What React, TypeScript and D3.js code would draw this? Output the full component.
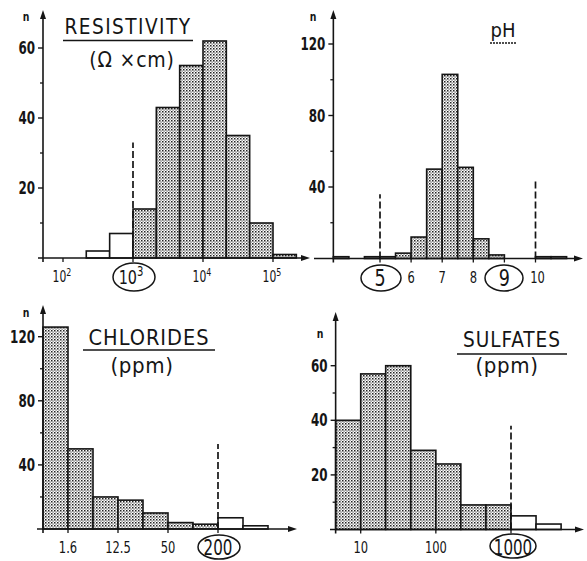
import React from 'react';
import * as d3 from 'd3';

// resistivity (ohm x cm), bins of 1/3 decade
const resEdges = [215, 464, 1000, 2154, 4642, 10000, 21544, 46416, 100000, 215443];
const resCounts = [2, 7, 14, 43, 55, 62, 35, 10, 1];
const resFilled = [0, 0, 1, 1, 1, 1, 1, 1, 1];
const resTicks = [100, 1000, 10000, 100000];
const resTickExp = ['2', '3', '4', '5'];

// pH, bins of 0.5
const phEdges = [3.5, 4, 4.5, 5, 5.5, 6, 6.5, 7, 7.5, 8, 8.5, 9, 9.5, 10, 10.5, 11];
const phCounts = [1, 0, 1, 1, 3, 12, 50, 103, 51, 11, 2, 0, 0, 1, 1];
const phFilled = [0, 0, 0, 0, 1, 1, 1, 1, 1, 1, 1, 0, 0, 0, 0];
const phTicks = [5, 6, 7, 8, 9, 10];

// chlorides (ppm), ordinal bins
const clCounts = [126, 50, 20, 18, 10, 4, 3, 7, 2];
const clFilled = [1, 1, 1, 1, 1, 1, 1, 0, 0];
const clTickIdx = [1, 3, 5, 7];
const clTickLabels = ['1.6', '12.5', '50', '200'];

// sulfates (ppm), bins of 1/3 decade
const soEdges = [4.64, 10, 21.5, 46.4, 100, 215, 464, 1000, 2154, 4642];
const soCounts = [40, 57, 60, 29, 24, 9, 9, 5, 2];
const soFilled = [1, 1, 1, 1, 1, 1, 1, 0, 0];
const soTicks = [10, 100, 1000];

const FONT = "'DejaVu Sans Condensed','DejaVu Sans',sans-serif";
const INK = '#151515';

// narrow text, squeezed horizontally like the old stencil lettering
function Txt({ x, y, size, anchor = 'middle', sx = 0.8, weight = 'normal', ls = 0, children }: any) {
  return (
    <text transform={`translate(${x},${y}) scale(${sx},1)`} textAnchor={anchor} fontSize={size}
      fontFamily={FONT} fontWeight={weight} letterSpacing={ls} fill={INK}>{children}</text>
  );
}

function Arrows({ x0, x1, y0, yTop, xStart }: any) {
  return (
    <g stroke={INK} fill={INK}>
      <line x1={xStart} x2={x1 - 4} y1={y0} y2={y0} strokeWidth={1.6} />
      <path d={`M${x1},${y0} L${x1 - 9},${y0 - 3} L${x1 - 9},${y0 + 3} Z`} stroke="none" />
      <line x1={x0} x2={x0} y1={y0 + 4} y2={yTop + 4} strokeWidth={1.6} />
      <path d={`M${x0},${yTop} L${x0 - 3},${yTop + 9} L${x0 + 3},${yTop + 9} Z`} stroke="none" />
    </g>
  );
}

function YTicks({ x0, y, major, minor }: any) {
  return (
    <g>
      {minor.map((v: number) => (
        <line key={'m' + v} x1={x0 - 3} x2={x0} y1={y(v)} y2={y(v)} stroke={INK} strokeWidth={1.3} />
      ))}
      {major.map((v: number) => (
        <g key={v}>
          <line x1={x0 - 5} x2={x0} y1={y(v)} y2={y(v)} stroke={INK} strokeWidth={1.4} />
          <Txt x={x0 - 8} y={y(v) + 6} size={17} anchor="end" weight="bold" sx={0.78}>{v}</Txt>
        </g>
      ))}
    </g>
  );
}

function Bars({ lefts, rights, counts, filled, y }: any) {
  return (
    <g>
      {counts.map((c: number, i: number) => (
        <rect key={i} x={lefts[i]} y={y(c)} width={rights[i] - lefts[i]} height={y(0) - y(c)}
          fill={filled[i] ? 'url(#stip)' : '#fff'} stroke={INK} strokeWidth={1.6} />
      ))}
    </g>
  );
}

function Dash({ x, y, v }: any) {
  return <line x1={x} x2={x} y1={y(0)} y2={y(v)} stroke={INK} strokeWidth={1.7} strokeDasharray="7,3" />;
}

function Circled({ cx, cy, rx, ry }: any) {
  return <ellipse cx={cx} cy={cy} rx={rx} ry={ry} fill="none" stroke={INK} strokeWidth={1.5} />;
}

export default function App() {
  // panel 1: resistivity
  const x1 = d3.scaleLog().domain([100, 100000]).range([63, 273]);
  const y1 = d3.scaleLinear().domain([0, 60]).range([258, 48]);
  // panel 2: pH
  const x2 = d3.scaleLinear().domain([5, 10]).range([380, 535.5]);
  const y2 = d3.scaleLinear().domain([0, 120]).range([258.5, 44]);
  // panel 3: chlorides
  const x3 = d3.scaleLinear().domain([0, 9]).range([43, 268]);
  const y3 = d3.scaleLinear().domain([0, 120]).range([529, 336.7]);
  // panel 4: sulfates
  const x4 = d3.scaleLog().domain([10, 1000]).range([360.7, 511]);
  const y4 = d3.scaleLinear().domain([0, 60]).range([529.5, 365.7]);

  const tickDown = (x: number, y: number) => (
    <line x1={x} x2={x} y1={y} y2={y + 4} stroke={INK} strokeWidth={1.3} />
  );

  return (
    <svg width={587} height={561} style={{ position: 'absolute', left: 0, top: 0, background: '#fff' }}>
      <defs>
        <pattern id="stip" width={3} height={3} patternUnits="userSpaceOnUse">
          <rect width={3} height={3} fill="#fff" />
          <rect x={0} y={0} width={1.5} height={1.5} fill="#222" />
          <rect x={1.5} y={1.5} width={1.2} height={1.2} fill="#555" />
        </pattern>
      </defs>

      {/* ---------- RESISTIVITY ---------- */}
      <Bars lefts={resEdges.slice(0, -1).map(x1)} rights={resEdges.slice(1).map(x1)} counts={resCounts} filled={resFilled} y={y1} />
      <Dash x={x1(1000)} y={y1} v={33} />
      <Arrows x0={43} x1={310} y0={y1(0)} yTop={10} xStart={38} />
      <YTicks x0={43} y={y1} major={[20, 40, 60]} minor={[10, 30, 50]} />
      {resTicks.map((t, i) => {
        const big = i === 1;
        return (
          <g key={t}>
            {tickDown(x1(t), y1(0))}
            <Txt x={x1(t) - (big ? 2 : 1)} y={big ? 284 : 282} size={big ? 20 : 15} sx={0.8}>
              10<tspan dy={big ? -8 : -6} fontSize={big ? 14 : 11}>{resTickExp[i]}</tspan>
            </Txt>
          </g>
        );
      })}
      <Circled cx={134} cy={277} rx={21} ry={14} />
      <Txt x={26} y={21} size={13} weight="bold">n</Txt>
      <Txt x={128} y={34} size={21} sx={0.98} ls={1.5}>RESISTIVITY</Txt>
      <line x1={63} x2={193} y1={40.5} y2={40.5} stroke={INK} strokeWidth={1.7} />
      <Txt x={132} y={67} size={21} sx={1} ls={0.8}>(Ω ×cm)</Txt>

      {/* ---------- pH ---------- */}
      <Bars lefts={phEdges.slice(0, -1).map(x2)} rights={phEdges.slice(1).map(x2)} counts={phCounts} filled={phFilled} y={y2} />
      <Dash x={x2(5)} y={y2} v={36} />
      <Dash x={x2(10)} y={y2} v={44} />
      <Arrows x0={x2(3.5)} x1={583} y0={y2(0)} yTop={10} xStart={314} />
      <YTicks x0={x2(3.5)} y={y2} major={[40, 80, 120]} minor={[20, 60, 100]} />
      {phTicks.map(t => {
        const big = t === 5 || t === 9;
        return (
          <g key={t}>
            {tickDown(x2(t), y2(0))}
            <Txt x={x2(t) + (t === 10 ? 2 : 0)} y={big ? 286 : 283} size={big ? 23 : 16} sx={big ? 0.85 : 0.8}>{t}</Txt>
          </g>
        );
      })}
      <Circled cx={381} cy={278} rx={20} ry={13} />
      <Circled cx={504} cy={278} rx={19} ry={13} />
      <Txt x={313} y={21} size={13} weight="bold">n</Txt>
      <Txt x={503} y={37} size={20} sx={1}>pH</Txt>
      <line x1={490} x2={517} y1={43} y2={43} stroke={INK} strokeWidth={1.4} strokeDasharray="2,1" />

      {/* ---------- CHLORIDES ---------- */}
      <Bars lefts={clCounts.map((_, i) => x3(i))} rights={clCounts.map((_, i) => x3(i + 1))} counts={clCounts} filled={clFilled} y={y3} />
      <Dash x={x3(7)} y={y3} v={53} />
      <Arrows x0={43} x1={297} y0={y3(0)} yTop={305} xStart={37} />
      <YTicks x0={43} y={y3} major={[40, 80, 120]} minor={[20, 60, 100]} />
      {clTickIdx.map((t, i) => {
        const big = i === 3;
        return (
          <g key={t}>
            {tickDown(x3(t), y3(0))}
            <Txt x={x3(t)} y={big ? 555 : 553} size={big ? 21 : 16} sx={0.8}>{clTickLabels[i]}</Txt>
          </g>
        );
      })}
      <Circled cx={219} cy={547} rx={21} ry={12} />
      <Txt x={26} y={317} size={13} weight="bold">n</Txt>
      <Txt x={149} y={345} size={22} sx={0.98} ls={1}>CHLORIDES</Txt>
      <line x1={83} x2={215} y1={350} y2={350} stroke={INK} strokeWidth={1.7} />
      <Txt x={142} y={373} size={21} sx={1.05} ls={0.6}>(ppm)</Txt>

      {/* ---------- SULFATES ---------- */}
      <Bars lefts={soEdges.slice(0, -1).map(x4)} rights={soEdges.slice(1).map(x4)} counts={soCounts} filled={soFilled} y={y4} />
      <Dash x={x4(1000)} y={y4} v={38} />
      <Arrows x0={x4(4.64)} x1={584} y0={y4(0)} yTop={312} xStart={330} />
      <YTicks x0={x4(4.64)} y={y4} major={[20, 40, 60]} minor={[10, 30, 50]} />
      {soTicks.map(t => {
        const big = t === 1000;
        return (
          <g key={t}>
            {tickDown(x4(t), y4(0))}
            <Txt x={x4(t) + (big ? 2 : 0)} y={big ? 555 : 553} size={big ? 21 : 16} sx={0.8}>{t}</Txt>
          </g>
        );
      })}
      <Circled cx={513} cy={546} rx={23} ry={12} />
      <Txt x={320} y={338} size={13} weight="bold">n</Txt>
      <Txt x={512} y={347} size={21} sx={0.98} ls={1}>SULFATES</Txt>
      <line x1={457} x2={567} y1={354} y2={354} stroke={INK} strokeWidth={1.7} />
      <Txt x={507} y={373} size={21} sx={1.05} ls={0.6}>(ppm)</Txt>
    </svg>
  );
}
